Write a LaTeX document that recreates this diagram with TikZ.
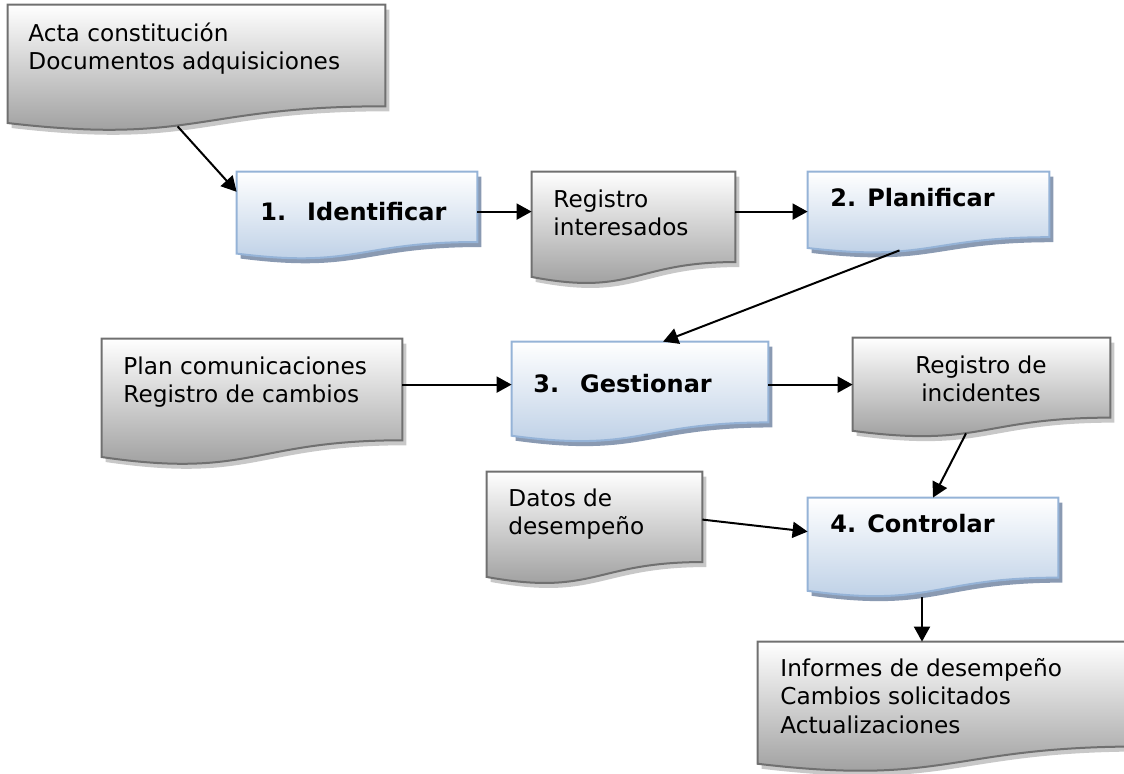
\documentclass[tikz,border=0pt]{standalone}
\usepackage{fontspec}
\setmainfont{DejaVu Sans}
\usetikzlibrary{arrows.meta,calc,fit,backgrounds}

\definecolor{fondogris}{RGB}{150,150,150}
\definecolor{bordegris}{RGB}{112,112,112}
\definecolor{sombragris}{RGB}{200,200,200}
\definecolor{fondoazul}{RGB}{184,204,228}
\definecolor{bordeazul}{RGB}{149,179,215}
\definecolor{sombraazul}{RGB}{138,154,178}

\tikzset{
  hoja/.style={inner sep=0pt},
  txt/.style={anchor=base west, align=left, inner sep=0pt, font=\fontsize{11.6}{14.2}\selectfont},
  paso/.style={anchor=base west, inner sep=0pt, font=\fontsize{12}{14.2}\selectfont\bfseries},
  flecha/.style={line width=1pt, -{Triangle[length=7.5pt,width=8pt]}},
}

\begin{document}
\begin{tikzpicture}[x=0.5pt, y=-0.5pt, line join=round]
\useasboundingbox (0,0) rectangle (1124,774);
% cajas tipo documento
\node[hoja, fit={(8,5) (385,131)}] (acta) {};
\node[hoja, fit={(237,172) (477,259)}] (ident) {};
\node[hoja, fit={(532,172) (735,284)}] (regint) {};
\node[hoja, fit={(808,172) (1049,253)}] (plan) {};
\node[hoja, fit={(102,339) (402,465)}] (plancom) {};
\node[hoja, fit={(512,342) (768,442)}] (gest) {};
\node[hoja, fit={(853,338) (1110,437)}] (reginc) {};
\node[hoja, fit={(487,472) (702,584)}] (datos) {};
\node[hoja, fit={(808,498) (1058,597)}] (ctrl) {};
\node[hoja, fit={(758,642) (1140,772)}] (inf) {};

% sombra, relleno y borde ondulado
\begin{scope}[on background layer]
\foreach \n/\c in {acta/gris, ident/azul, regint/gris, plan/azul, plancom/gris, gest/azul, reginc/gris, datos/gris, ctrl/azul, inf/gris}{
  \fill[fill=sombra\c, transform canvas={shift={(2pt,-2.5pt)}}] (\n.north west) -- (\n.north east) -- ($(\n.north east)!.802!(\n.south east)$) .. controls ($(\n.north)!.802!(\n.south)$) and ($(\n.north)!1.1075!(\n.south)$) .. ($(\n.north west)!.934!(\n.south west)$) -- cycle;
  \draw[draw=borde\c, line width=1pt, top color=white, bottom color=fondo\c] (\n.north west) -- (\n.north east) -- ($(\n.north east)!.802!(\n.south east)$) .. controls ($(\n.north)!.802!(\n.south)$) and ($(\n.north)!1.1075!(\n.south)$) .. ($(\n.north west)!.934!(\n.south west)$) -- cycle;
}
\end{scope}

% textos (base = ultima linea)
\node[txt] (acta-t) at (28,70) {Acta constitución\\Documentos adquisiciones};
\node[paso] (ident-t) at (260,221) {1.\hspace{10.5pt}Identificar};
\node[txt] (regint-t) at (553,236) {Registro\\interesados};
\node[paso] (plan-t) at (830,207) {2. Planificar};
\node[txt] (plancom-t) at (123,403) {Plan comunicaciones\\Registro de cambios};
\node[paso] (gest-t) at (533,393) {3.\hspace{10.5pt}Gestionar};
\node[txt, anchor=base, align=center] (reginc-t) at (981,402) {Registro de\\incidentes};
\node[txt] (datos-t) at (508,535) {Datos de\\desempeño};
\node[paso] (ctrl-t) at (830,533) {4. Controlar};
\node[txt] (inf-t) at (780,733) {Informes de desempeño\\Cambios solicitados\\Actualizaciones};

% flechas
\draw[flecha] ($(acta.south west)!.45!(acta.south east)+(0,-5)$) -- ($(ident.north west)!.23!(ident.south west)$);
\draw[flecha] ([yshift=-20pt]ident.north east) -- ([yshift=-20pt]regint.north west);
\draw[flecha] ([yshift=-20pt]regint.north east) -- ([yshift=-20pt]plan.north west);
\draw[flecha] ($(plan.south west)!.38!(plan.south east)+(0,-3)$) -- ($(gest.north west)!.59!(gest.north east)$);
\draw[flecha] ([yshift=-23pt]plancom.north east) -- ([yshift=-21.5pt]gest.north west);
\draw[flecha] ([yshift=-21.5pt]gest.north east) -- ([yshift=-23.5pt]reginc.north west);
\draw[flecha] ($(reginc.south west)!.44!(reginc.south east)+(0,-4)$) -- (ctrl.north);
\draw[flecha] ([yshift=-24pt]datos.north east) -- ([yshift=-17pt]ctrl.north west);
\draw[flecha] ([xshift=-5.5pt]ctrl.south) -- ([xshift=-5.5pt]ctrl.south |- inf.north);
\end{tikzpicture}
\end{document}
